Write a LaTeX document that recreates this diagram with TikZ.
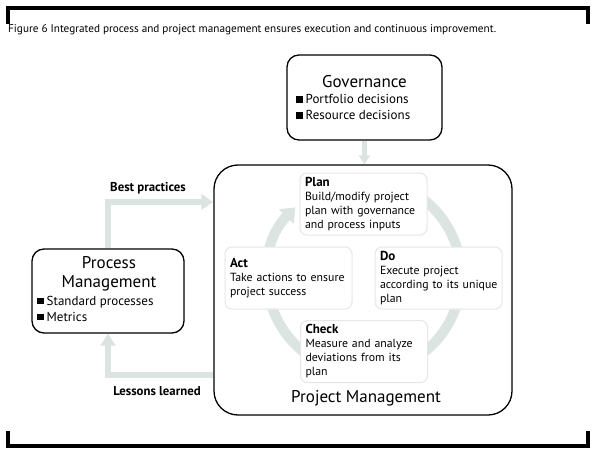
\documentclass[tikz,border=0pt]{standalone}
\usepackage{fontspec}
\setmainfont{PT Sans}
\usetikzlibrary{arrows.meta,positioning}
\definecolor{ringfill}{HTML}{DCE4E1}
\definecolor{stepline}{HTML}{E2E8E5}
\newcommand{\sqbullet}{\rule[0.6pt]{6.5pt}{6.5pt}\hspace{3pt}}
\newcommand{\steptitleformat}{\fontsize{13}{14}\selectfont\bfseries}

\begin{document}
\begin{tikzpicture}[x=1pt,y=-1pt,
  every node/.style={font=\fontsize{11.8}{14}\selectfont, inner sep=0pt},
  frame/.style={line width=4pt, black},
  bigbox/.style={draw=black, line width=1.3pt, rounded corners=12pt, fill=white},
  stepbox/.style={draw=stepline, line width=1pt, rounded corners=7pt, fill=white,
    minimum width=127pt, minimum height=62pt, text width=117pt, align=left},
  boxtitle/.style={font=\fontsize{17}{19}\selectfont},
  items/.style={font=\fontsize{13}{16}\selectfont, align=left, anchor=west},
  ring/.style={line width=10pt, ringfill, -{Triangle[width=20pt,length=13pt]}},
  flow/.style={line width=6.5pt, ringfill, -{Triangle[width=15pt,length=12pt]}},
  flowlbl/.style={font=\fontsize{12.8}{13}\selectfont\bfseries}
]
\useasboundingbox (0,0) rectangle (594,452);

% frame and caption
\draw[frame] (8,24) -- (8,8.5) -- (588,8.5) -- (588,24);
\draw[frame] (8,431) -- (8,446) -- (588,446) -- (588,431);
\node[anchor=west, font=\fontsize{11.2}{12}\selectfont] (caption) at (8,29.5)
  {Figure 6 Integrated process and project management ensures execution and continuous improvement.};

% governance
\node[bigbox, minimum width=155pt, minimum height=85pt] (gov) at (364.5,97.5) {};
\node[boxtitle] (govtitle) at (364.5,82) {Governance};
\node[items] (govitems) at (296,107) {\sqbullet Portfolio decisions\\\sqbullet Resource decisions};

% process management
\node[bigbox, minimum width=152pt, minimum height=84pt] (proc) at (108,291) {};
\node[boxtitle, align=center] (proctitle) at (109,273.5) {Process\\Management};
\node[items] (procitems) at (37,308.5) {\sqbullet Standard processes\\\sqbullet Metrics};

% project management with the cycle
\node[bigbox, rounded corners=24pt, minimum width=298pt, minimum height=250pt] (pm) at (363,290) {};
\node[boxtitle] (pmtitle) at (366,398) {Project Management};
\draw[ring] (364,276) ++(-125:97) arc[start angle=-125, end angle=225, radius=97];

\node[stepbox] (plan) at (363.5,204) {{\steptitleformat Plan}\\Build/modify project\\plan with governance\\and process inputs};
\node[stepbox] (act) at (288.5,278) {{\steptitleformat Act}\\Take actions to ensure\\project success};
\node[stepbox] (do) at (438.5,278) {{\steptitleformat Do}\\Execute project\\\mbox{according to its unique}\\plan};
\node[stepbox] (check) at (364,351.5) {{\steptitleformat Check}\\Measure and analyze\\deviations from its\\plan};

% feedback arrows
\coordinate (bpy) at (0,202);
\coordinate (lly) at (0,375);
\draw[flow] (proc.north) |- (pm.west |- bpy);
\node[flowlbl] (bplbl) at (148,188) {Best practices};
\draw[flow] (pm.west |- lly) -| (proc.south);
\node[flowlbl] (lllbl) at (157,391) {Lessons learned};
\draw[flow, line width=5pt, -{Triangle[width=11pt,length=9pt]}] (gov.south) -- (gov.south |- pm.north);
\end{tikzpicture}
\end{document}
